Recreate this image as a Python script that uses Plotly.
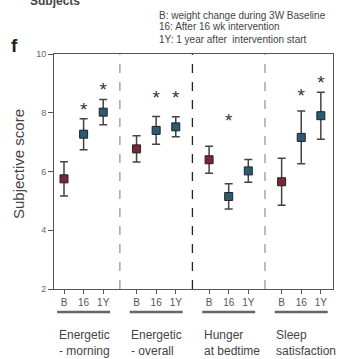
import plotly.graph_objects as go

groups = ["Energetic<br>- morning", "Energetic<br>- overall", "Hunger<br>at bedtime", "Sleep<br>satisfaction"]
timepoints = ["B", "16", "1Y"]
means = [[5.75, 7.27, 8.02],
         [6.77, 7.40, 7.52],
         [6.40, 5.15, 6.02],
         [5.65, 7.16, 7.90]]
errs = [[0.58, 0.53, 0.43],
        [0.45, 0.47, 0.34],
        [0.46, 0.43, 0.39],
        [0.80, 0.90, 0.80]]
star_idx = [[1, 2], [1, 2], [1], [1, 2]]
star_y = [[8.23, 8.91], [8.64, 8.64], [7.86], [8.71, 9.15]]
divider_colors = ["#999999", "#222222", "#999999"]
legend_lines = ["B: weight change during 3W Baseline",
                "16: After 16 wk intervention",
                "1Y: 1 year after  intervention start"]

GAP = 3.7
XR = [-0.51, 13.72]
STAR_SHIFT = 0.17  # glyph baseline offset of "*"
color_B = "#7b2636"
color_T = "#2c5a72"

W, H = 357, 359
L, R, T, B = 54, 24, 54, 70
PW, PH = W - L - R, H - T - B


def px_x(p):
    return (p - L) / PW


def px_y(p):
    return (H - B - p) / PH


def dx(x):
    return (x - XR[0]) / (XR[1] - XR[0])


fig = go.Figure()
tickvals, ticktext = [], []
shapes, ann = [], []
for g, grp in enumerate(groups):
    xs = [g * GAP + i for i in range(3)]
    tickvals += xs
    ticktext += timepoints
    for i in range(3):
        fig.add_trace(go.Scatter(
            x=[xs[i]], y=[means[g][i]], mode="markers",
            marker=dict(symbol="square", size=8, color=color_B if i == 0 else color_T,
                        line=dict(color="#222222", width=1)),
            error_y=dict(type="data", array=[errs[g][i]], color="#444444", thickness=1.5, width=4),
            showlegend=False))
    fig.add_trace(go.Scatter(
        x=[xs[k] for k in star_idx[g]], y=[v - STAR_SHIFT for v in star_y[g]], mode="text",
        text=["*"] * len(star_idx[g]), textposition="middle center",
        textfont=dict(size=19, color="#333333", family="Liberation Sans"),
        showlegend=False))
    shapes.append(dict(type="line", x0=dx(xs[0] - 0.35), x1=dx(xs[2] + 0.35), xref="paper",
                       y0=px_y(312), y1=px_y(312), yref="paper",
                       line=dict(color="#666666", width=2.5)))
    ann.append(dict(x=dx(xs[0] - 0.38), y=px_y(326), xref="paper", yref="paper", text=grp,
                    showarrow=False, xanchor="left", yanchor="top", align="left",
                    font=dict(size=12, color="#444444", family="Liberation Sans")))
    if g < len(groups) - 1:
        xd = (xs[2] + (g + 1) * GAP) / 2
        shapes.append(dict(type="line", x0=xd, x1=xd, xref="x", y0=0, y1=1, yref="paper",
                           line=dict(color=divider_colors[g], width=1.3, dash="dash")))

for k, line in enumerate(legend_lines):
    ann.append(dict(x=px_x(157), y=px_y(15 + 12 * k), xref="paper", yref="paper", text=line,
                    showarrow=False, xanchor="left", yanchor="middle",
                    font=dict(size=10, color="#444444", family="Liberation Sans")))
ann.append(dict(x=px_x(9), y=px_y(45), xref="paper", yref="paper", text="<b>f</b>",
                showarrow=False, xanchor="left", yanchor="middle",
                font=dict(size=19, color="#222222", family="Liberation Sans")))
ann.append(dict(x=px_x(28), y=px_y(1), xref="paper", yref="paper", text="<b>Subjects</b>",
                showarrow=False, xanchor="left", yanchor="middle",
                font=dict(size=12, color="#444444", family="Liberation Sans")))
ann.append(dict(x=px_x(18), y=px_y(164), xref="paper", yref="paper", text="Subjective score",
                showarrow=False, xanchor="center", yanchor="middle", textangle=-90,
                font=dict(size=15, color="#444444", family="Liberation Sans")))

fig.update_xaxes(range=XR, tickvals=tickvals, ticktext=ticktext,
                 showline=True, linecolor="#555555", linewidth=1, mirror=True,
                 ticks="outside", ticklen=4, tickcolor="#555555", showgrid=False, zeroline=False,
                 tickfont=dict(size=10, color="#555555", family="Liberation Sans"))
fig.update_yaxes(range=[2, 10], tickvals=[2, 4, 6, 8, 10],
                 showline=True, linecolor="#555555", linewidth=1, mirror=True,
                 ticks="outside", ticklen=5, tickcolor="#555555", showgrid=False, zeroline=False,
                 tickfont=dict(size=9, color="#666666", family="Liberation Sans"))

fig.update_layout(
    width=W, height=H, margin=dict(l=L, r=R, t=T, b=B),
    plot_bgcolor="white", paper_bgcolor="white",
    shapes=shapes, annotations=ann,
)

fig.write_html("out.html", config={"displayModeBar": False},
               post_script="document.body.style.margin='0';document.body.style.overflow='hidden';")
